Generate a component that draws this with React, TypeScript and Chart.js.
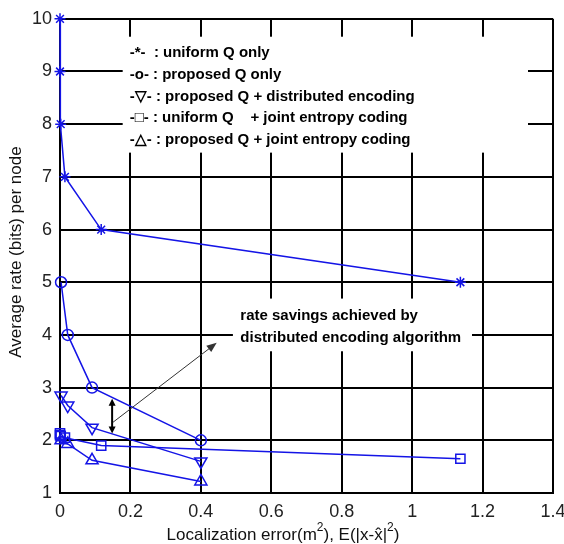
import React, { useEffect, useRef } from "react";
import { Chart, registerables } from "chart.js";
Chart.register(...registerables);

// ---- data ----
const uniformX = [0, 0, 0.002, 0.014, 0.117, 1.137];
const uniformOnlyY = [10, 9, 8, 7, 6, 5];
const uniformJointY = [2.13, 2.1, 2.08, 2.05, 1.9, 1.65];
const proposedX = [0.003, 0.022, 0.091, 0.4];
const proposedOnlyY = [5, 4, 3, 2];
const proposedDistY = [2.85, 2.66, 2.24, 1.6];
const proposedJointY = [2.0, 1.93, 1.62, 1.22];

const legendLines = [
  "-*-  : uniform Q only",
  "-o- : proposed Q only",
  "-\u25BD- : proposed Q + distributed encoding",
  "-\u25A1- : uniform Q    + joint entropy coding",
  "-\u25B3- : proposed Q + joint entropy coding",
];
const noteLines = ["rate savings achieved by", "distributed encoding algorithm"];
const yTitle = "Average rate (bits) per node";

const BLUE = "#1414e6";
const FONT = "'Liberation Sans', Arial, sans-serif";

const pts = (xs: number[], ys: number[]) => ys.map((v, i) => ({ x: xs[i], y: v }));

function arrow(ctx: CanvasRenderingContext2D, x1: number, y1: number, x2: number, y2: number, len: number, half: number) {
  const a = Math.atan2(y2 - y1, x2 - x1);
  ctx.beginPath();
  ctx.moveTo(x2, y2);
  ctx.lineTo(x2 - len * Math.cos(a) + half * Math.sin(a), y2 - len * Math.sin(a) - half * Math.cos(a));
  ctx.lineTo(x2 - len * Math.cos(a) - half * Math.sin(a), y2 - len * Math.sin(a) + half * Math.cos(a));
  ctx.closePath();
  ctx.fill();
}

const decor = {
  id: "decor",
  beforeDatasetsDraw(chart: any) {
    const { ctx, scales } = chart;
    const x = scales.x, y = scales.y;
    const box = (x0: number, x1: number, y0: number, y1: number) => {
      const px0 = x.getPixelForValue(x0), px1 = x.getPixelForValue(x1);
      const py0 = y.getPixelForValue(y0), py1 = y.getPixelForValue(y1);
      ctx.fillRect(px0, py0, px1 - px0, py1 - py0);
    };
    ctx.save();
    ctx.fillStyle = "#ffffff";
    box(0.178, 1.329, 9.66, 7.46);
    box(0.491, 1.17, 4.69, 3.69);
    ctx.restore();
  },
  afterDatasetsDraw(chart: any) {
    const { ctx, scales } = chart;
    const x = scales.x, y = scales.y;
    ctx.save();
    // legend text
    ctx.fillStyle = "#000";
    ctx.font = `bold 15px ${FONT}`;
    ctx.textAlign = "left";
    ctx.textBaseline = "middle";
    const lx = x.getPixelForValue(0.198);
    const ly0 = y.getPixelForValue(9.35);
    legendLines.forEach((t, i) => ctx.fillText(t, lx, ly0 + i * 21.7));
    // note text
    const nx = x.getPixelForValue(0.512);
    const ny = y.getPixelForValue(4.36);
    noteLines.forEach((t, i) => ctx.fillText(t, nx, ny + i * 21.5));

    // double arrow
    const ax = x.getPixelForValue(0.148);
    const ay1 = y.getPixelForValue(2.79), ay2 = y.getPixelForValue(2.13);
    ctx.strokeStyle = "#000";
    ctx.fillStyle = "#000";
    ctx.lineWidth = 2;
    ctx.beginPath();
    ctx.moveTo(ax, ay1 + 5);
    ctx.lineTo(ax, ay2 - 5);
    ctx.stroke();
    arrow(ctx, ax, ay2, ax, ay1, 7, 3.5);
    arrow(ctx, ax, ay1, ax, ay2, 7, 3.5);

    // thin arrow
    const tx1 = x.getPixelForValue(0.15), ty1 = y.getPixelForValue(2.34);
    const tx2 = x.getPixelForValue(0.445), ty2 = y.getPixelForValue(3.85);
    const ang = Math.atan2(ty2 - ty1, tx2 - tx1);
    ctx.strokeStyle = "#333";
    ctx.fillStyle = "#333";
    ctx.lineWidth = 1;
    ctx.beginPath();
    ctx.moveTo(tx1, ty1);
    ctx.lineTo(tx2 - 6 * Math.cos(ang), ty2 - 6 * Math.sin(ang));
    ctx.stroke();
    arrow(ctx, tx1, ty1, tx2, ty2, 10, 4);

    // y title
    ctx.fillStyle = "#111";
    ctx.font = `17px ${FONT}`;
    ctx.textAlign = "center";
    ctx.textBaseline = "middle";
    ctx.translate(16, 252);
    ctx.rotate(-Math.PI / 2);
    ctx.fillText(yTitle, 0, 0);
    ctx.setTransform(1, 0, 0, 1, 0, 0);

    // x title with superscripts
    const parts: [string, boolean][] = [
      ["Localization error(m", false],
      ["2", true],
      ["), E(|x-", false],
      ["x\u0302", false],
      ["|", false],
      ["2", true],
      [")", false],
    ];
    const big = `17px ${FONT}`, small = `12px ${FONT}`;
    let total = 0;
    for (const [t, sup] of parts) {
      ctx.font = sup ? small : big;
      total += ctx.measureText(t).width;
    }
    let cx = 283 - total / 2;
    const by = 540;
    ctx.textAlign = "left";
    ctx.textBaseline = "alphabetic";
    for (const [t, sup] of parts) {
      ctx.font = sup ? small : big;
      ctx.fillText(t, cx, sup ? by - 9 : by);
      cx += ctx.measureText(t).width;
    }
    ctx.restore();
  },
};

export default function App() {
  const ref = useRef<HTMLCanvasElement>(null);
  useEffect(() => {
    if (!ref.current) return;
    const common = {
      showLine: true,
      borderColor: BLUE,
      borderWidth: 1.5,
      pointBorderColor: BLUE,
      pointBackgroundColor: "rgba(0,0,0,0)",
      pointBorderWidth: 1.5,
      tension: 0,
      clip: false as any,
    };
    const chart = new Chart(ref.current, {
      type: "scatter",
      data: {
        datasets: [
          { ...common, label: "uniform Q only", data: pts(uniformX, uniformOnlyY), pointStyle: "star", pointRadius: 5.5 },
          { ...common, label: "proposed Q only", data: pts(proposedX, proposedOnlyY), pointStyle: "circle", pointRadius: 5.5 },
          { ...common, label: "proposed Q + distributed encoding", data: pts(proposedX, proposedDistY), pointStyle: "triangle", pointRotation: 180, pointRadius: 7 },
          { ...common, label: "uniform Q + joint entropy coding", data: pts(uniformX, uniformJointY), pointStyle: "rect", pointRadius: 6.5 },
          { ...common, label: "proposed Q + joint entropy coding", data: pts(proposedX, proposedJointY), pointStyle: "triangle", pointRadius: 7 },
        ],
      },
      options: {
        responsive: false,
        animation: false,
        layout: { padding: { top: 15, right: 11, left: 0, bottom: 0 } },
        plugins: { legend: { display: false }, tooltip: { enabled: false } },
        scales: {
          x: {
            type: "linear",
            min: 0,
            max: 1.4,
            afterFit: (s: any) => { s.height = 51; s.paddingLeft = 0; s.paddingRight = 0; },
            ticks: {
              stepSize: 0.2,
              padding: 8,
              color: "#222",
              font: { family: FONT, size: 18 },
              maxRotation: 0,
              callback: (v: any) => String(Number(Number(v).toFixed(1))),
            },
            grid: { color: "#000", lineWidth: 2, drawTicks: false },
            border: { color: "#000", width: 2 },
          },
          y: {
            type: "linear",
            min: 1,
            max: 10,
            afterFit: (s: any) => { s.width = 60; },
            ticks: { stepSize: 1, padding: 8, color: "#222", font: { family: FONT, size: 18 } },
            grid: { color: "#000", lineWidth: 2, drawTicks: false },
            border: { color: "#000", width: 2 },
          },
        },
      },
      plugins: [decor],
    } as any);
    return () => chart.destroy();
  }, []);
  return (
    <div style={{ position: "absolute", left: 0, top: 0, width: 564, height: 544, background: "#fff" }}>
      <canvas ref={ref} width={564} height={544} />
    </div>
  );
}
